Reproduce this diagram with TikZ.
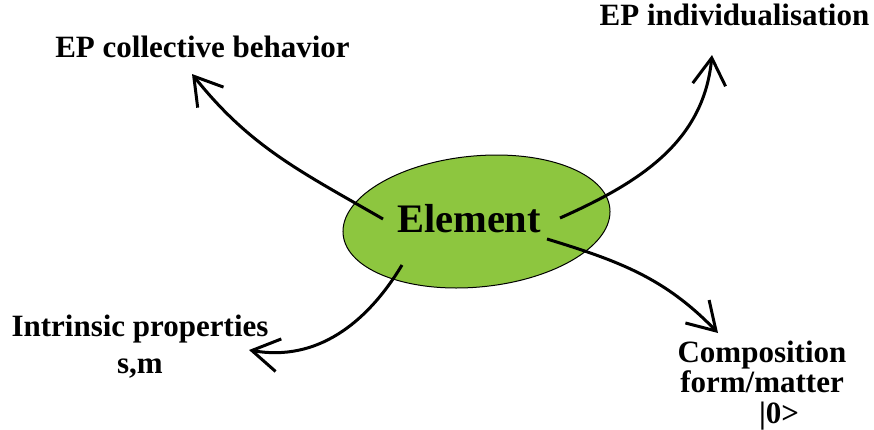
\documentclass[tikz,border=0pt]{standalone}
\usepackage{fontspec}
\setmainfont{Liberation Serif}
\usetikzlibrary{arrows.meta,shapes.geometric}
\definecolor{leafgreen}{HTML}{8DC63F}
\begin{document}
\begin{tikzpicture}[x=1pt,y=1pt]
\tikzstyle{every node}+=[inner sep=0pt]
\tikzstyle{lbl}=[font=\fontsize{31}{37}\selectfont\bfseries, align=center, anchor=base]
\tikzstyle{link}=[line width=3pt, -{Straight Barb[length=27pt,width=33pt]}]
\useasboundingbox (0,0) rectangle (874,-429);
\node [ellipse, draw=black, line width=1pt, fill=leafgreen, minimum width=268pt, minimum height=131pt, rotate=5.6] (blob) at (476.5,-221.5) {};
\node [font=\fontsize{40.5}{48}\selectfont\bfseries, anchor=base] (elem) at (469,-232) {Element};
\node [lbl] (coll) at (202.5,-57) {EP collective behavior};
\node [lbl] (indiv) at (734.5,-25) {EP individualisation};
\node [lbl] (intr) at (140,-373) {Intrinsic properties\\s,m};
\node [lbl, font=\fontsize{31}{30.5}\selectfont\bfseries] (comp) at (762,-423) {Composition\\form/matter\\\hspace{1.1em}|0>};
\coordinate (collfrom) at (383,-219);
\coordinate (collto) at (192,-74);
\coordinate (indivfrom) at (560,-218);
\coordinate (indivto) at (712,-55);
\coordinate (intrfrom) at (402,-265);
\coordinate (intrto) at (249,-350);
\coordinate (compfrom) at (547,-239);
\coordinate (compto) at (718,-333);
\draw [link] (collfrom) to [out=150,in=-51.5] (collto);
\draw [link] (indivfrom) to [out=24,in=-95.5] (indivto);
\draw [link] (intrfrom) to [out=239,in=-10] (intrto);
\draw [link] (compfrom) to [out=-17,in=134] (compto);
\end{tikzpicture}
\end{document}
